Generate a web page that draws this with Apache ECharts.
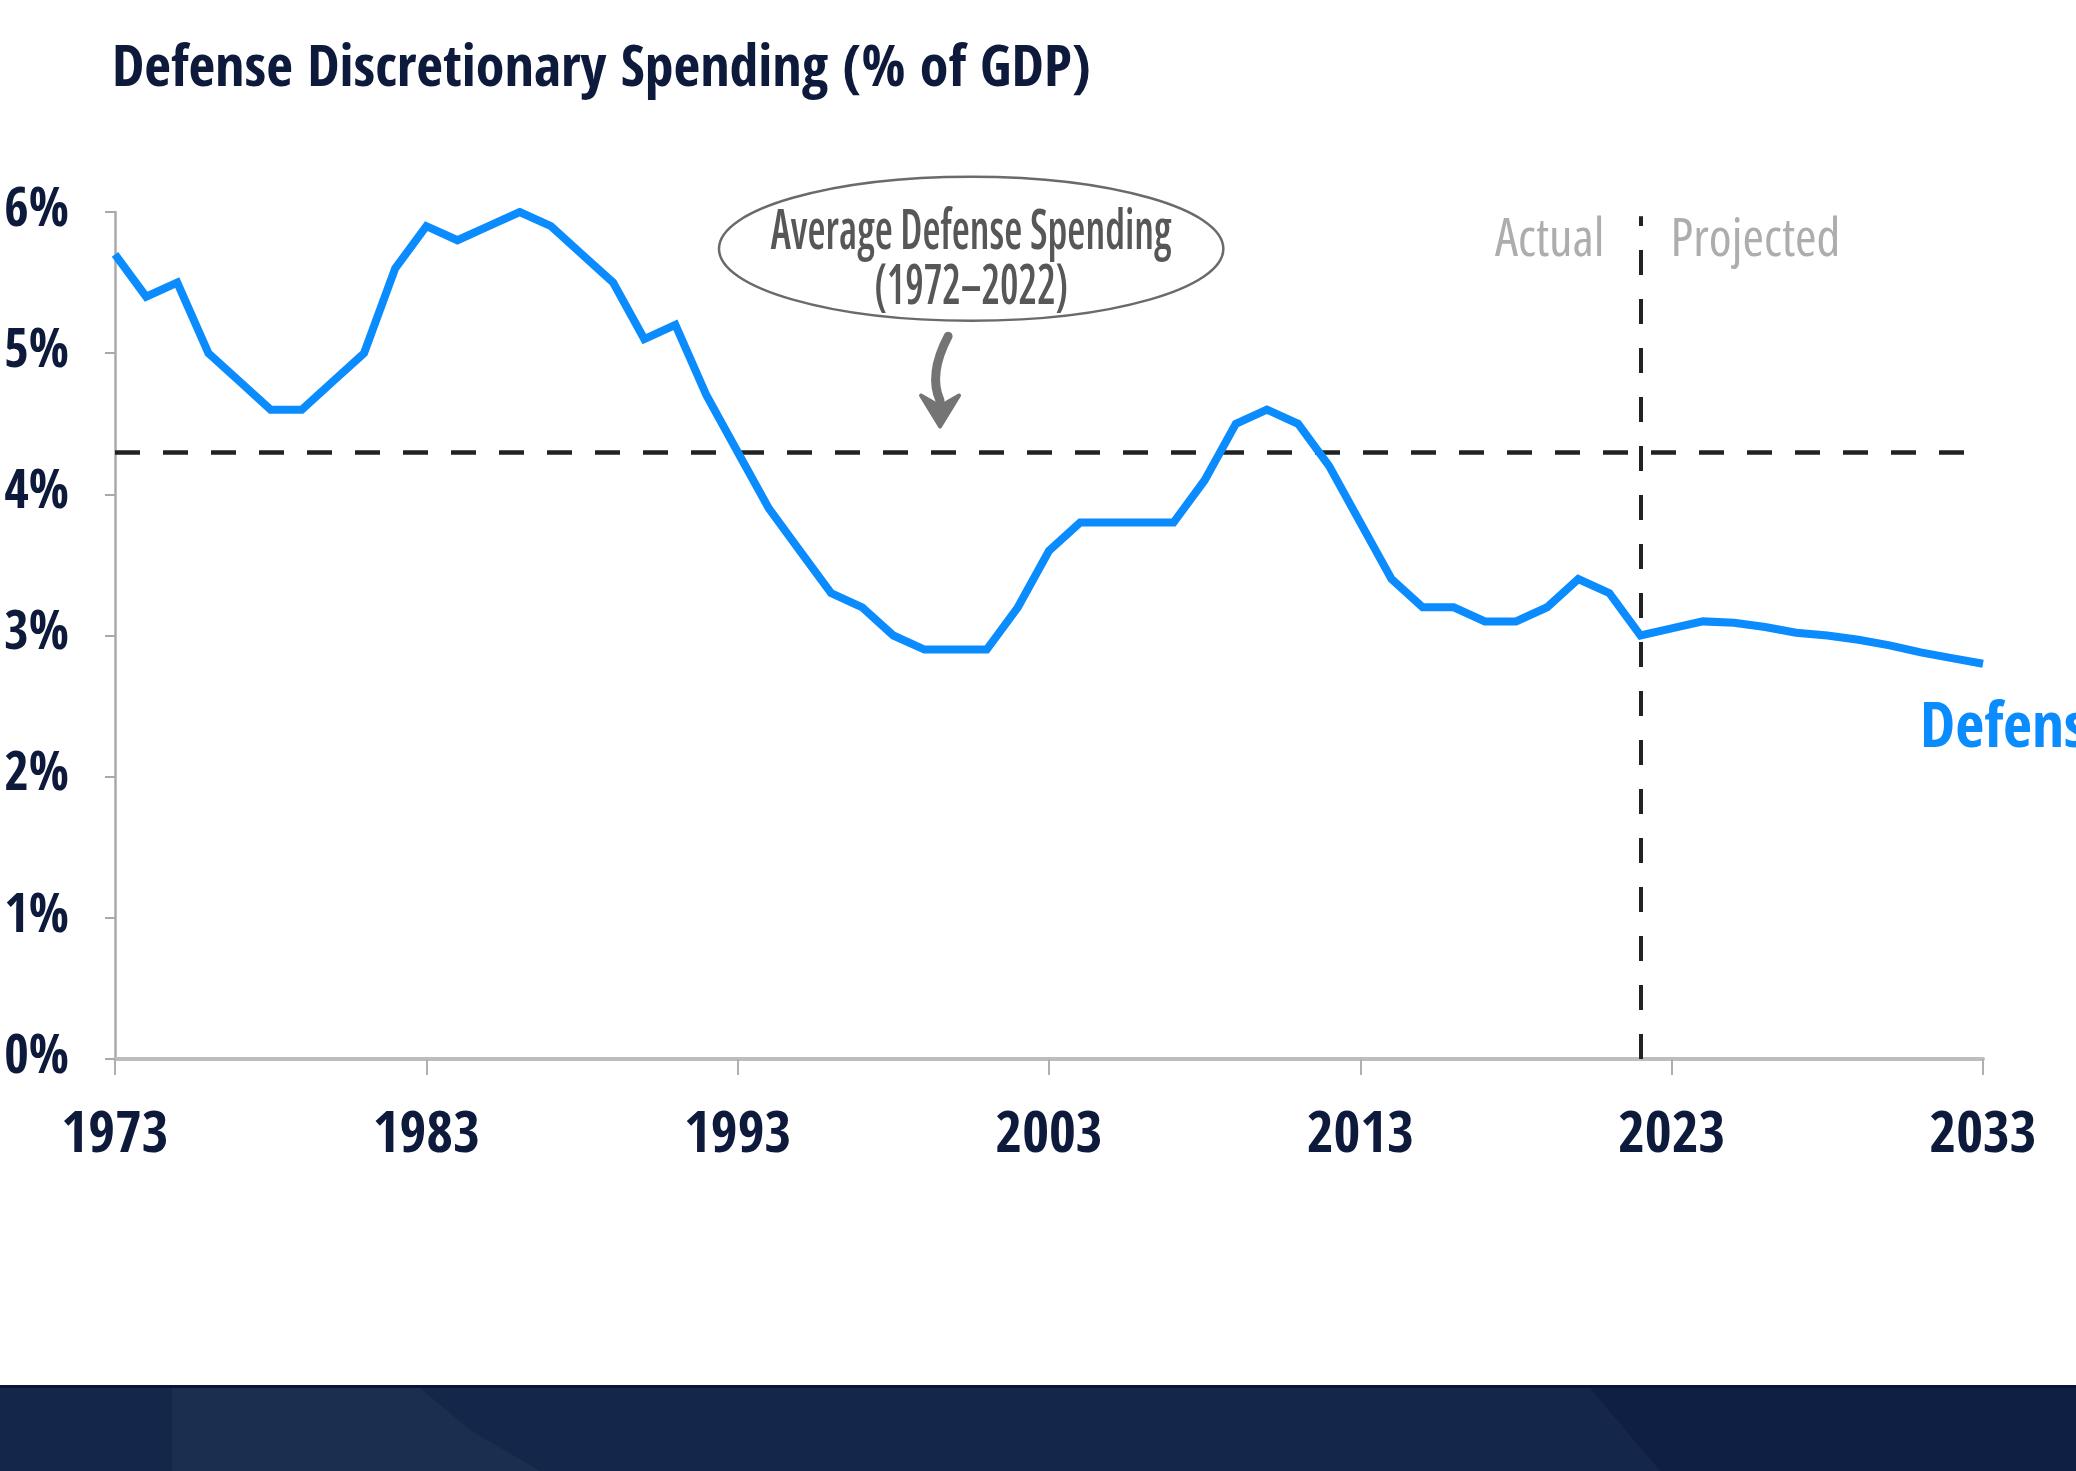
<!DOCTYPE html>
<html>
<head>
<meta charset="utf-8">
<script src="https://cdn.jsdelivr.net/npm/echarts@6/dist/echarts.min.js"></script>
<style>
  html, body { margin: 0; padding: 0; background: #ffffff; }
  #chart { width: 2076px; height: 1471px; }
</style>
</head>
<body>
<div id="chart"></div>
<script>
// ---- data ----
const years = [1973,1974,1975,1976,1977,1978,1979,1980,1981,1982,
               1983,1984,1985,1986,1987,1988,1989,1990,1991,1992,
               1993,1994,1995,1996,1997,1998,1999,2000,2001,2002,
               2003,2004,2005,2006,2007,2008,2009,2010,2011,2012,
               2013,2014,2015,2016,2017,2018,2019,2020,2021,2022,
               2023,2024,2025,2026,2027,2028,2029,2030,2031,2032,2033];
const defense = [5.7,5.4,5.5,5.0,4.8,4.6,4.6,4.8,5.0,5.6,
                 5.9,5.8,5.9,6.0,5.9,5.7,5.5,5.1,5.2,4.7,
                 4.3,3.9,3.6,3.3,3.2,3.0,2.9,2.9,2.9,3.2,
                 3.6,3.8,3.8,3.8,3.8,4.1,4.5,4.6,4.5,4.2,
                 3.8,3.4,3.2,3.2,3.1,3.1,3.2,3.4,3.3,3.0,
                 3.05,3.1,3.09,3.06,3.02,3.0,2.97,2.93,2.88,2.84,2.80];
const xTicks = [1973,1983,1993,2003,2013,2023,2033];
const yTicks = [0,1,2,3,4,5,6];
const averageValue = 4.3;            // average 1972–2022
const averageSpan = [1973, 2032.5];  // extent of the average line
const splitYear = 2022;              // actual / projected boundary
const splitSpan = [0, 5.97];
const sideLabels = ['Actual', 'Projected'];
const sideLabelValue = 5.79;
const calloutLines = ['Average Defense Spending', '(1972\u20132022)'];
const calloutCenter = [2000.5, 5.74];
const calloutRadius = [8.1, 0.51];   // in years / percentage points
const arrowFrom = [1999.76, 5.12];
const arrowTo = [1999.5, 4.48];
const seriesName = 'Defense';

const FONT = "'Open Sans Condensed', 'Roboto Condensed', 'DejaVu Sans Condensed', sans-serif";
const LIGHT_FONT = "'Open Sans', 'Roboto', sans-serif";
const NAVY = '#0e1a3b';
const BLUE = '#0a8cff';

const chart = echarts.init(document.getElementById('chart'), null, { renderer: 'canvas' });

const seriesData = years.map((y, i) => [y, defense[i]]);

chart.setOption({
  backgroundColor: '#ffffff',
  animation: false,
  title: {
    text: 'Defense Discretionary Spending (% of GDP)',
    left: 107,
    top: 37,
    textStyle: { fontFamily: FONT, fontSize: 58, fontWeight: 'bold', color: NAVY }
  },
  grid: { left: 115, right: 93, top: 212, bottom: 412, containLabel: false, outerBoundsMode: 'none' },
  xAxis: {
    type: 'value',
    min: xTicks[0],
    max: xTicks[xTicks.length - 1],
    interval: 10,
    axisLine: { show: true, lineStyle: { color: '#bdbdbd', width: 4 } },
    axisTick: { show: true, length: 16, lineStyle: { color: '#b0b0b0', width: 2 } },
    axisLabel: {
      margin: 49, fontFamily: FONT, fontSize: 58, fontWeight: 'bold', color: NAVY,
      formatter: v => String(v)
    },
    splitLine: { show: false }
  },
  yAxis: {
    type: 'value',
    min: yTicks[0],
    max: yTicks[yTicks.length - 1],
    interval: 1,
    axisLine: { show: true, lineStyle: { color: '#aaaaaa', width: 2.5 } },
    axisTick: { show: true, length: 10, lineStyle: { color: '#aaaaaa', width: 2 } },
    axisLabel: {
      margin: 46, fontFamily: FONT, fontSize: 53, fontWeight: 'bold', color: NAVY,
      formatter: v => v + '%'
    },
    splitLine: { show: false }
  },
  series: [
    {
      name: seriesName,
      type: 'line',
      data: seriesData,
      symbol: 'none',
      z: 5,
      lineStyle: { color: BLUE, width: 8, join: 'miter' },
      endLabel: {
        show: true,
        formatter: seriesName,
        position: 'right',
        distance: 0,
        offset: [-63, 67],
        fontFamily: FONT, fontSize: 63, fontWeight: 'bold', color: BLUE
      },
      markLine: {
        silent: true,
        symbol: 'none',
        animation: false,
        label: { show: false },
        lineStyle: { color: '#222222', width: 4.5, type: [25, 23] },
        data: [
          [ { coord: [averageSpan[0], averageValue] }, { coord: [averageSpan[1], averageValue] } ],
          [ { coord: [splitYear, splitSpan[0]], lineStyle: { type: [25, 24], width: 4 } },
            { coord: [splitYear, splitSpan[1]] } ]
        ]
      }
    }
  ]
});

function px(p) { return chart.convertToPixel({ gridIndex: 0 }, p); }

const c = px(calloutCenter);
const r0 = px([calloutCenter[0] - calloutRadius[0], calloutCenter[1] - calloutRadius[1]]);
const rx = c[0] - r0[0];
const ry = r0[1] - c[1];
const a0 = px(arrowFrom);
const a1 = px(arrowTo);
const sp = px([splitYear, sideLabelValue]);

chart.setOption({
  graphic: [
    {
      type: 'ellipse',
      shape: { cx: c[0], cy: c[1], rx: rx, ry: ry },
      style: { fill: '#ffffff', stroke: '#6a6a6a', lineWidth: 2.5 },
      z: 10
    },
    {
      type: 'text',
      x: c[0], y: c[1] - 16,
      scaleX: 0.74,
      style: { text: calloutLines[0], align: 'center', verticalAlign: 'middle',
               font: "condensed 600 56px " + LIGHT_FONT, fill: '#575757' },
      z: 11
    },
    {
      type: 'text',
      x: c[0], y: c[1] + 39,
      scaleX: 0.74,
      style: { text: calloutLines[1], align: 'center', verticalAlign: 'middle',
               font: "condensed 600 56px " + LIGHT_FONT, fill: '#575757' },
      z: 11
    },
    {
      type: 'bezierCurve',
      shape: { x1: a0[0], y1: a0[1], cpx1: a0[0] - 20, cpy1: a0[1] + 38,
               x2: a1[0], y2: a1[1] - 26 },
      style: { stroke: '#747474', lineWidth: 9, lineCap: 'round', fill: null },
      z: 10
    },
    {
      type: 'polygon',
      shape: { points: [[a1[0] - 19, a1[1] - 31], [a1[0], a1[1] - 20], [a1[0] + 19, a1[1] - 31], [a1[0], a1[1]]] },
      style: { fill: '#747474', stroke: '#747474', lineWidth: 4, lineJoin: 'round' },
      z: 10
    },
    {
      type: 'text',
      x: sp[0] - 36, y: sp[1],
      style: { text: sideLabels[0], align: 'right', verticalAlign: 'middle',
               font: "condensed 500 52px " + LIGHT_FONT, fill: '#adadad' },
      z: 11
    },
    {
      type: 'text',
      x: sp[0] + 30, y: sp[1],
      style: { text: sideLabels[1], align: 'left', verticalAlign: 'middle',
               font: "condensed 500 52px " + LIGHT_FONT, fill: '#adadad' },
      z: 11
    },
    // bottom banner
    {
      type: 'rect', left: 0, bottom: 0,
      shape: { width: 2076, height: 85 },
      style: { fill: '#142649' }, z: 1
    },
    {
      type: 'polygon', z: 2,
      shape: { points: [[172, 1388], [420, 1388], [470, 1430], [540, 1471], [172, 1471]] },
      style: { fill: '#1b2e50' }
    },
    {
      type: 'polygon', z: 2,
      shape: { points: [[1590, 1388], [2076, 1388], [2076, 1471], [1660, 1471]] },
      style: { fill: '#0f1f44' }
    },
    {
      type: 'rect', left: 0, bottom: 83,
      shape: { width: 2076, height: 3 },
      style: { fill: '#0a1535' }, z: 3
    }
  ]
});
</script>
</body>
</html>
